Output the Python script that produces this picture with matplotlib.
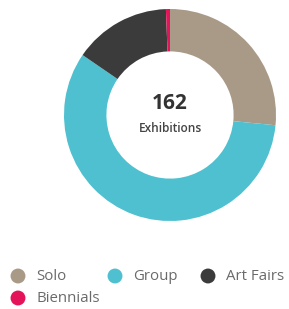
import matplotlib
matplotlib.use("Agg")
import matplotlib.pyplot as plt

categories = ["Solo", "Group", "Art Fairs", "Biennials"]
values = [43, 94, 24, 1]
colors = ["#a99a88", "#4ec0cf", "#3b3b3b", "#e3145a"]
total_label = "162"
sub_label = "Exhibitions"

plt.rcParams['font.family'] = ['Open Sans', 'DejaVu Sans']

W, H = 289, 309
fig = plt.figure(figsize=(W / 100, H / 100), dpi=100)
cx, cy, r = 170, 115, 106
ax = fig.add_axes([(cx - r) / W, (H - cy - r) / H, 2 * r / W, 2 * r / H])
ax.pie(values, colors=colors, startangle=90, counterclock=False,
       wedgeprops=dict(width=0.4, linewidth=0), radius=1.0)
ax.set_xlim(-1, 1)
ax.set_ylim(-1, 1)
ax.set_aspect('equal')
ax.axis('off')

ax.text(0, 0.11, total_label, ha='center', va='center', fontsize=15,
        fontweight='bold', color='#333333')
ax.text(0, -0.125, sub_label, ha='center', va='center', fontsize=8.6,
        fontweight='semibold', color='#444444')

# legend layout (pixel positions of entries)
slots = [(18, 276), (115, 276), (208, 276), (18, 298)]
lax = fig.add_axes([0, 0, 1, 1])
lax.set_xlim(0, W)
lax.set_ylim(H, 0)
lax.axis('off')
for (mx, my), lab, col in zip(slots, categories, colors):
    lax.scatter([mx], [my], s=115, color=col, edgecolors='none')
    lax.text(mx + 18, my, lab, ha='left', va='center', fontsize=10.8,
             color='#6a6a6a')

fig.savefig("out.png", dpi=100)
